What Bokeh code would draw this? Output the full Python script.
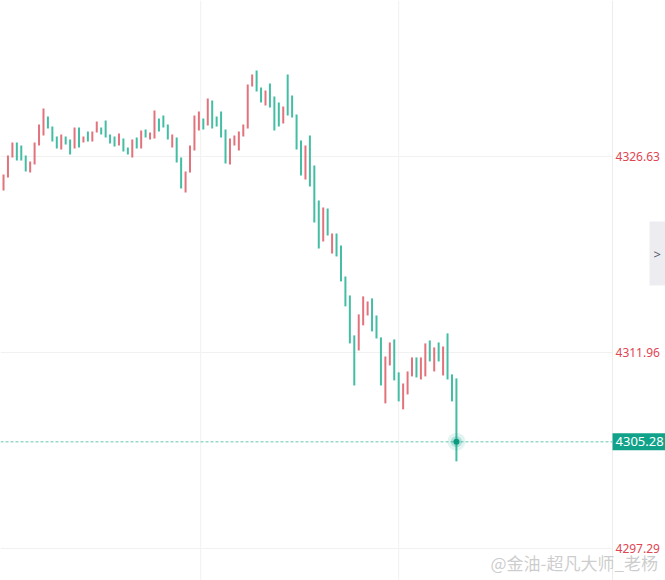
from bokeh.plotting import figure
from bokeh.models import Range1d, Span, Label, ColumnDataSource
from bokeh.embed import file_html
from bokeh.resources import INLINE

# ---- data ----
highs = [
    4325.29, 4326.71, 4327.68, 4327.68, 4327.46, 4326.71, 4326.26, 4327.68, 4329.03, 4330.23,
    4329.63, 4328.88, 4328.13, 4328.28, 4328.13, 4327.91, 4328.80, 4328.80, 4328.13, 4328.50,
    4328.50, 4329.25, 4328.80, 4329.33, 4328.28, 4328.13, 4328.36, 4327.98, 4327.31, 4327.91,
    4328.06, 4328.58, 4328.65, 4328.43, 4330.08, 4329.48, 4329.70, 4329.03, 4328.28, 4328.06,
    4326.56, 4325.51, 4327.46, 4329.70, 4330.00, 4329.48, 4330.97, 4330.83, 4329.63, 4330.00,
    4328.65, 4327.98, 4328.21, 4328.50, 4329.03, 4332.02, 4332.77, 4333.07, 4331.80, 4331.57,
    4332.10, 4331.12, 4330.68, 4330.38, 4332.77, 4331.20, 4329.78, 4327.83, 4327.46, 4328.21,
    4325.96, 4323.34, 4322.82, 4322.74, 4320.87, 4320.87, 4319.97, 4317.65, 4316.23, 4313.24,
    4314.81, 4316.16, 4315.78, 4316.01, 4314.73, 4313.09, 4311.66, 4312.71, 4312.94, 4310.47,
    4309.64, 4310.54, 4311.59, 4311.59, 4311.59, 4312.64, 4312.86, 4312.34, 4312.71, 4312.41,
    4313.39, 4310.32, 4310.02,
]
lows = [
    4324.09, 4325.06, 4326.56, 4326.33, 4326.33, 4325.51, 4325.44, 4326.04, 4327.46, 4328.21,
    4328.73, 4327.76, 4327.23, 4327.16, 4327.53, 4326.78, 4327.23, 4327.31, 4327.68, 4327.76,
    4327.76, 4328.43, 4328.28, 4328.06, 4327.61, 4327.38, 4327.46, 4327.01, 4326.78, 4326.56,
    4327.23, 4327.23, 4328.06, 4327.91, 4327.98, 4328.50, 4328.80, 4327.91, 4327.31, 4326.19,
    4324.24, 4323.94, 4325.44, 4327.08, 4328.58, 4328.65, 4328.95, 4328.73, 4328.88, 4328.06,
    4326.11, 4326.04, 4327.46, 4327.08, 4328.13, 4328.73, 4331.87, 4331.50, 4330.68, 4330.45,
    4330.30, 4328.58, 4328.88, 4329.10, 4329.70, 4329.55, 4327.16, 4325.21, 4324.91, 4324.39,
    4321.69, 4319.75, 4320.27, 4320.72, 4319.37, 4319.15, 4317.28, 4315.41, 4312.64, 4309.49,
    4312.11, 4313.99, 4314.73, 4313.54, 4313.01, 4309.49, 4308.15, 4310.99, 4309.87, 4308.30,
    4307.70, 4308.82, 4310.17, 4310.09, 4309.94, 4310.17, 4311.29, 4310.54, 4311.29, 4310.24,
    4309.94, 4308.30, 4303.81,
]
# U = up (red), D = down (green)
moves = list(
    "UUUDDDUUUU" "DDDUDDUDUD" "UUDDDDUDDU" "DUDUUDDDUD" "DUUUUDUDDD"
    "DUUUUUUDDU" "DDDUDDDDUD" "DDUDUDDDDD" "UUUDDDUUDD" "UUUDUUDUDU" "DDD"
)
last_price = 4305.28
axis_ticks = [4297.29, 4311.96, 4326.63]
tick_labels = ["4297.29", "4311.96", "4326.63"]
time_grid = [45.4, 90.0]
watermark = "@金油-超凡大师_老杨"

UP, DOWN = "#e2727c", "#43bda3"
TEAL = "#10a38a"
GRID = "#f1f1f1"

X_START, X_SEP, X_END = 0.32, 138.16, 150.09
Y_MIN, Y_MAX = 4294.89, 4338.31

xs = list(range(1, len(highs) + 1))
colors = [UP if m == "U" else DOWN for m in moves]
src = ColumnDataSource(dict(x=xs, high=highs, low=lows, color=colors))

p = figure(
    width=665, height=580,
    x_range=Range1d(X_START, X_END), y_range=Range1d(Y_MIN, Y_MAX),
    output_backend="svg", toolbar_location=None,
    x_axis_location=None, y_axis_location=None,
    min_border=0,
)
p.outline_line_color = None
p.background_fill_color = "white"
p.border_fill_color = "white"
p.xgrid.visible = False
p.ygrid.visible = False

# grid lines (plot area only, left of the price scale)
p.segment(x0=[X_START] * 3, x1=[X_SEP] * 3, y0=axis_ticks, y1=axis_ticks,
          line_color=GRID, line_width=1)
p.segment(x0=time_grid, x1=time_grid, y0=[Y_MIN] * 2, y1=[Y_MAX] * 2,
          line_color=GRID, line_width=1)

# price-scale separator
p.add_layout(Span(location=X_SEP, dimension="height", line_color="#ececec", line_width=1))

# bars
p.vbar(x="x", top="high", bottom="low", width=0.45, fill_color="color",
       line_color=None, source=src)

# last-price dotted line
p.segment(x0=[X_START], x1=[X_SEP], y0=[last_price], y1=[last_price],
          line_color="#98d9cb", line_dash="3 2", line_width=1.5)

# glowing last point
p.scatter(x=[xs[-1]], y=[last_price], size=18, fill_color=TEAL, fill_alpha=0.12, line_color=None)
p.scatter(x=[xs[-1]], y=[last_price], size=11, fill_color=TEAL, fill_alpha=0.25, line_color=None)
p.scatter(x=[xs[-1]], y=[last_price], size=6, fill_color="#0b9a80", line_color=None)

# price-scale labels
p.text(x=[X_SEP] * 3, y=axis_ticks, text=tick_labels, x_offset=3,
       text_color="#e04552", text_font={"value": "Noto Sans"}, text_font_size="12px",
       text_baseline="middle", text_align="left")

# last-price tag
p.add_layout(Label(
    x=X_SEP, y=last_price, text=f"{last_price:.2f}",
    text_color="white", text_font="Noto Sans", text_font_size="13px",
    text_baseline="middle", text_align="left",
    background_fill_color=TEAL, padding=dict(left=3, right=5, top=4, bottom=4),
))

# watermark
p.add_layout(Label(
    x=490, y=18, x_units="screen", y_units="screen", text=watermark,
    text_color="#c4c4c4", text_alpha=0.85, text_font="Noto Sans CJK SC",
    text_font_size="17px", text_baseline="middle", text_align="left",
))

# side tab
p.add_layout(Label(
    x=649, y=327, x_units="screen", y_units="screen", text=">",
    text_color="#555566", text_font="Noto Sans", text_font_size="13px",
    text_baseline="middle", text_align="left",
    background_fill_color="#ededf1", padding=dict(left=4, right=5, top=23, bottom=23),
))

open("out.html", "w").write(file_html(p, INLINE))
